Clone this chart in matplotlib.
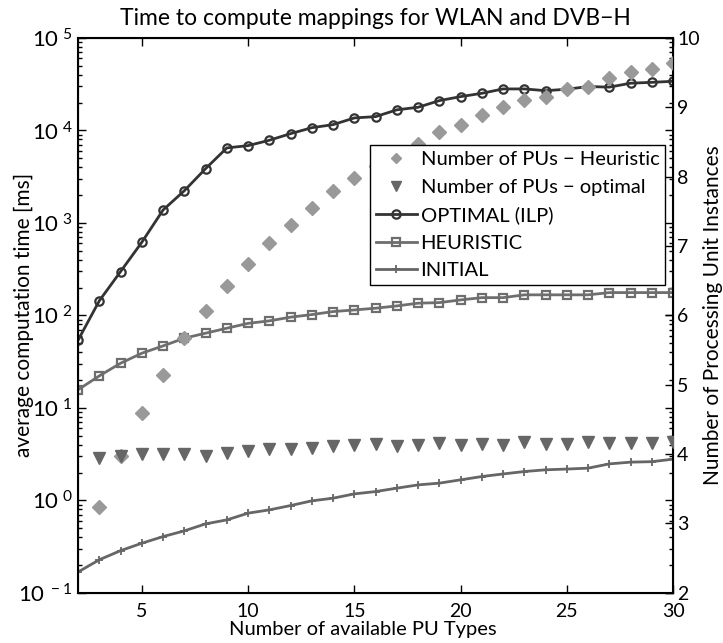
#!/usr/bin/env python3
# -*- coding:utf-8 -*-

import math
import matplotlib
matplotlib.use("Agg")
import matplotlib.pyplot as plt
from matplotlib.ticker import FixedLocator, LogLocator, NullFormatter, FuncFormatter

plt.rcParams['font.family'] = ['Lato', 'DejaVu Sans']
plt.rcParams['mathtext.fontset'] = 'custom'
plt.rcParams['mathtext.rm'] = 'Lato'
plt.rcParams['mathtext.it'] = 'Lato'
plt.rcParams['mathtext.bf'] = 'Lato'

# number of available PU types
pu_types = list(range(2, 31))

# average computation time [ms]
optimal_ms = [54, 144, 298, 618, 1380, 2230, 3860, 6470, 6850, 7830,
              9230, 10700, 11550, 13650, 14100, 16700, 17800, 21000, 23200, 25200,
              28100, 28100, 26900, 27900, 29800, 29400, 32400, 33100, 34000]
heuristic_ms = [15.7, 22.2, 30.4, 39.0, 46.8, 56.7, 64.2, 72.7, 82.0, 87.3,
                95.7, 102, 110, 114.5, 119.6, 126.6, 135.5, 137.5, 147, 155.6,
                155.6, 166.8, 166.8, 166.8, 166.8, 176.4, 176.4, 176.4, 176.4]
initial_ms = [0.168, 0.228, 0.286, 0.344, 0.406, 0.468, 0.557, 0.615, 0.727, 0.789,
              0.879, 0.988, 1.056, 1.175, 1.245, 1.355, 1.47, 1.535, 1.667, 1.81,
              1.93, 2.05, 2.14, 2.18, 2.23, 2.48, 2.59, 2.62, 2.79]

# number of processing unit instances (right axis)
pus_types = list(range(3, 31))
pus_heuristic = [3.24, 3.97, 4.59, 5.14, 5.67, 6.06, 6.43, 6.74, 7.04, 7.30,
                 7.55, 7.80, 7.98, 8.15, 8.31, 8.47, 8.64, 8.75, 8.89, 9.00,
                 9.10, 9.15, 9.26, 9.29, 9.42, 9.51, 9.55, 9.64]
pus_optimal = [3.94, 3.97, 4.00, 4.00, 4.00, 3.98, 4.02, 4.05, 4.07, 4.07,
               4.09, 4.11, 4.13, 4.15, 4.12, 4.13, 4.16, 4.13, 4.15, 4.13,
               4.17, 4.15, 4.15, 4.17, 4.16, 4.16, 4.16, 4.17]

fig = plt.figure(figsize=(7.23, 6.43), dpi=100)
ax1 = fig.add_axes([0.108, 0.078, 0.823, 0.863])
ax2 = ax1.twinx()

l_opt, = ax1.plot(pu_types, optimal_ms, color='#333333', lw=2, marker='o', ms=6,
                  mfc='none', mec='#333333', mew=1.6, label='OPTIMAL (ILP)')
l_heu, = ax1.plot(pu_types, heuristic_ms, color='#6e6e6e', lw=2, marker='s', ms=6,
                  mfc='none', mec='#6e6e6e', mew=1.6, label='HEURISTIC')
l_ini, = ax1.plot(pu_types, initial_ms, color='#666666', lw=2, marker='+', ms=6,
                  mew=1.3, label='INITIAL')
ax1.set_yscale('log')
ax1.set_ylim(0.1, 1e5)
ax1.set_xlim(2, 30)

d_heu, = ax2.plot(pus_types, pus_heuristic, ls='none', marker='D', ms=7,
                  color='#999999', mec='#999999', label='Number of PUs \u2212 Heuristic', zorder=2)
d_opt, = ax2.plot(pus_types, pus_optimal, ls='none', marker='v', ms=8.5,
                  color='#666666', mec='#666666', label='Number of PUs \u2212 optimal', zorder=3)
ax2.set_ylim(2, 10)
ax2.yaxis.set_major_locator(FixedLocator(range(2, 11)))

ax1.set_xticks([5, 10, 15, 20, 25, 30])
ax1.yaxis.set_major_locator(LogLocator(base=10, numticks=10))
ax1.yaxis.set_minor_locator(LogLocator(base=10, subs=range(2, 10), numticks=20))
ax1.yaxis.set_minor_formatter(NullFormatter())
ax1.yaxis.set_major_formatter(FuncFormatter(lambda v, p: r'$10^{\ %d}$' % round(math.log10(v))))

ax1.tick_params(which='both', direction='in', top=True, right=True, width=1)
ax1.tick_params(which='major', length=6)
ax1.tick_params(which='minor', length=3)
ax1.tick_params(axis='x', pad=7, labelsize=14)
ax1.tick_params(axis='y', pad=4, labelsize=16)
ax2.tick_params(direction='in', labelsize=14, length=6, width=1, pad=3)
for sp in ax1.spines.values():
    sp.set_linewidth(1.5)

ax1.set_title('Time to compute mappings for WLAN and DVB\u2212H', fontsize=16.5, pad=9)
ax1.set_xlabel('Number of available PU Types', fontsize=14.5)
ax1.xaxis.set_label_coords(0.479, -0.051)
ax1.set_ylabel('average computation time [ms]', fontsize=15)
ax1.yaxis.set_label_coords(-0.074, 0.5)
ax2.set_ylabel('Number of Processing Unit Instances', fontsize=15)
ax2.yaxis.set_label_coords(1.05, 0.5)

leg = ax2.legend(handles=[d_heu, d_opt, l_opt, l_heu, l_ini], loc='upper right',
                 bbox_to_anchor=(0.987, 0.807), borderaxespad=0, fontsize=14.5, numpoints=1,
                 handlelength=2.0, handletextpad=0.2, labelspacing=0.52,
                 borderpad=0.3, fancybox=False, framealpha=1, edgecolor='black')
leg.get_frame().set_linewidth(1.0)
leg.set_zorder(10)
leg.legend_handles[0].set_markersize(5)
leg.legend_handles[1].set_markersize(7)

fig.savefig('out.png', dpi=100)
